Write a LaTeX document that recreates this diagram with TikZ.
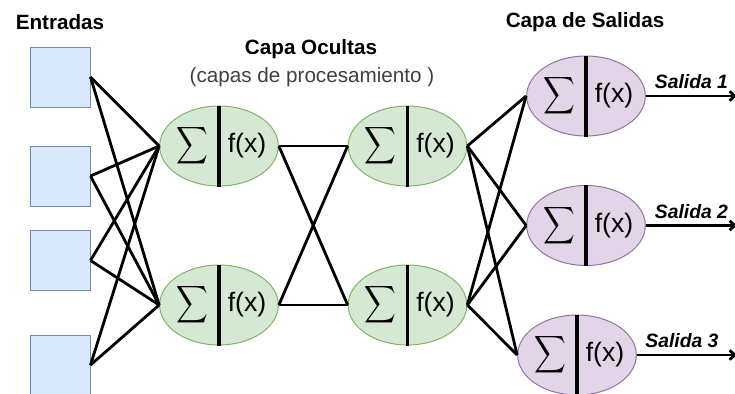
\documentclass[tikz,border=0pt]{standalone}
\usepackage{fontspec}
\usepackage{graphicx}
\setmainfont{Liberation Sans}
\usetikzlibrary{shapes.geometric,arrows.meta,calc}

\definecolor{azulfondo}{HTML}{DAE8FC}
\definecolor{azulborde}{HTML}{6C8EBF}
\definecolor{verdefondo}{HTML}{D5E8D4}
\definecolor{verdeborde}{HTML}{82B366}
\definecolor{lilafondo}{HTML}{E1D5E7}
\definecolor{lilaborde}{HTML}{9673A6}

\begin{document}
\begin{tikzpicture}[
    x=0.75pt, y=-0.75pt,
    entrada/.style={draw=azulborde, fill=azulfondo, line width=0.75pt, minimum width=45pt, minimum height=45pt, inner sep=0pt},
    neurona/.style={ellipse, line width=0.75pt, minimum width=89pt, minimum height=60pt, inner sep=0pt},
    oculta/.style={neurona, fill=verdefondo, draw=verdeborde},
    salida/.style={neurona, fill=lilafondo, draw=lilaborde},
    sigma/.style={inner sep=0pt},
    fx/.style={inner sep=0pt, font=\fontsize{20}{20}\selectfont},
    titulo/.style={font=\bfseries\fontsize{15.5}{18}\selectfont},
    conexion/.style={line width=2.1pt},
    divisor/.style={line width=2.4pt}
  ]
    \useasboundingbox (0,0) rectangle (735,393);

    % --- Titulos ---
    \node[titulo] (tent) at (60, 22) {Entradas};
    \node[titulo] (toc) at (311, 49) {Capa Ocultas};
    \node[font=\fontsize{15.5}{18}\selectfont, color=black!75] (tsub) at (312, 77) {(capas de procesamiento )};
    \node[titulo] (tsal) at (585, 22) {Capa de Salidas};

    % --- Entradas ---
    \node[entrada] (in1) at (60, 77) {};
    \node[entrada] (in2) at (60, 176) {};
    \node[entrada] (in3) at (60, 260.5) {};
    \node[entrada] (in4) at (60, 365) {};

    % --- Capa oculta ---
    \node[oculta] (h1) at (219, 146) {};
    \node[oculta] (h2) at (219, 305) {};
    \node[oculta] (h3) at (407.5, 146) {};
    \node[oculta] (h4) at (407.5, 305) {};

    % --- Capa de salidas ---
    \node[salida] (s1) at (586, 96) {};
    \node[salida] (s2) at (586, 225.5) {};
    \node[salida] (s3) at (577, 355) {};

    % Sumatoria y funcion de activacion
    \foreach \n in {h1,h2,h3,h4,s1,s2,s3} {
      \draw[divisor] (\n.north) -- (\n.south);
      \node[sigma] (\n sum) at ($(\n)+(-27,0)$) {\scalebox{1.65}[1.95]{$\displaystyle\sum$}};
      \node[fx] (\n fx) at ($(\n)+(28,0)$) {f(x)};
    }

    % Conexiones entradas -> oculta
    \foreach \i in {1,...,4} {
      \draw[conexion] (in\i.east) -- (h1.west);
      \draw[conexion] (in\i.east) -- (h2.west);
    }

    % Conexiones oculta -> oculta
    \foreach \a in {h1,h2} {
      \draw[conexion] (\a.east) -- (h3.west);
      \draw[conexion] (\a.east) -- (h4.west);
    }

    % Conexiones oculta -> salidas
    \foreach \a in {h3,h4} {
      \foreach \b in {s1,s2,s3}
        \draw[conexion] (\a.east) -- (\b.west);
    }

    % Flechas de salida
    \coordinate (f1) at (737, 96);
    \coordinate (f2) at (737, 225.5);
    \coordinate (f3) at (737, 355);
    \foreach \k/\p in {1/0.5, 2/0.5, 3/0.45}
      \draw[conexion, -{Straight Barb[length=4pt, width=7pt]}] (s\k.east) -- (f\k)
        node[pos=\p, above=1pt, font=\bfseries\itshape\fontsize{14.5}{16}\selectfont] (l\k) {Salida \k};
  \end{tikzpicture}
\end{document}
